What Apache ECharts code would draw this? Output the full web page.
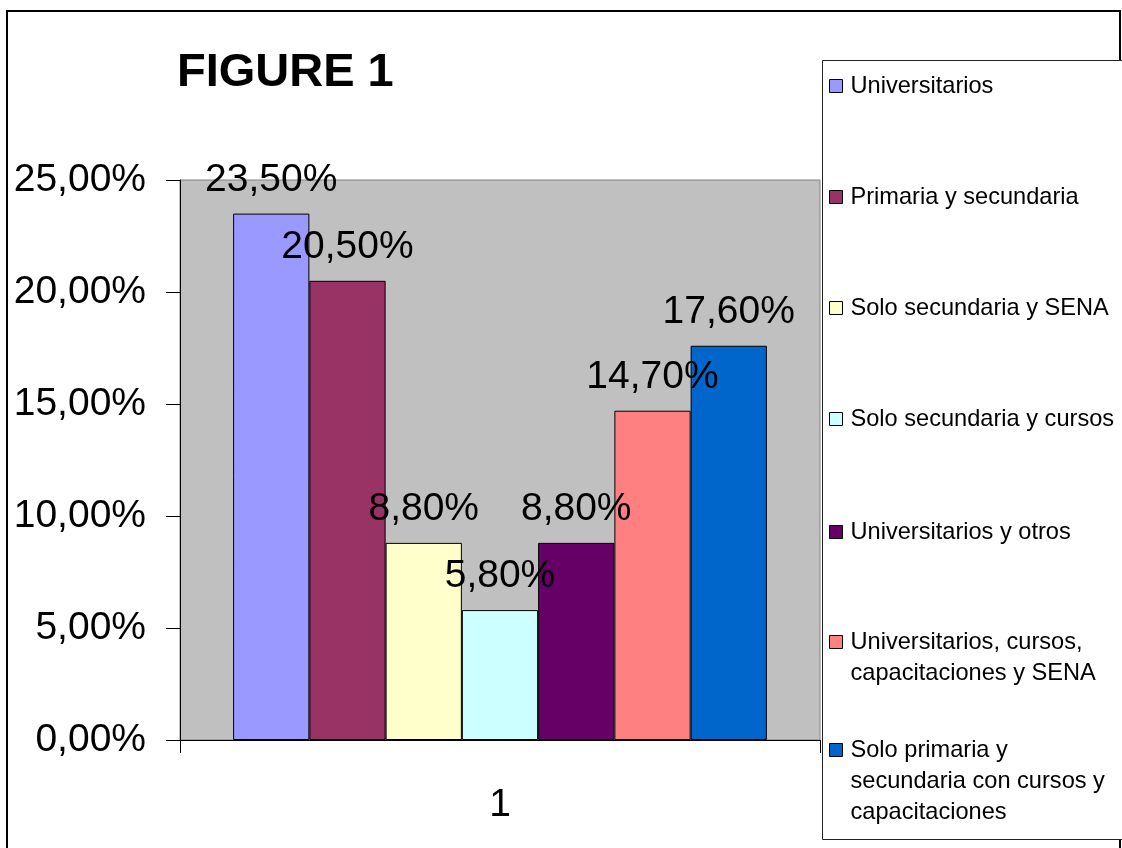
<!DOCTYPE html>
<html>
<head>
<meta charset="utf-8">
<script src="https://cdn.jsdelivr.net/npm/echarts@6/dist/echarts.min.js"></script>
<style>
html,body{margin:0;padding:0;background:#fff;}
#chart{width:1122px;height:848px;}
</style>
</head>
<body>
<div id="chart"></div>
<script>
const categories = ['1'];
const seriesNames = [
  'Universitarios',
  'Primaria y secundaria',
  'Solo secundaria y SENA',
  'Solo secundaria y cursos',
  'Universitarios y otros',
  'Universitarios, cursos, capacitaciones y SENA',
  'Solo primaria y secundaria con cursos y capacitaciones'
];
const legendLines = [
  ['Universitarios'],
  ['Primaria y secundaria'],
  ['Solo secundaria y SENA'],
  ['Solo secundaria y cursos'],
  ['Universitarios y otros'],
  ['Universitarios, cursos,', 'capacitaciones y SENA'],
  ['Solo primaria y', 'secundaria con cursos y', 'capacitaciones']
];
const values = [23.5, 20.5, 8.8, 5.8, 8.8, 14.7, 17.6];
const colors = ['#9999FF', '#993366', '#FFFFCC', '#CCFFFF', '#660066', '#FF8080', '#0066CC'];
const yTicks = [0, 5, 10, 15, 20, 25];

const FONT = '"Liberation Sans", Arial, sans-serif';
const fmt = v => v.toFixed(2).replace('.', ',') + '%';

const LH = 31;
const legendIconCenters = [86, 197, 308, 419, 532, 642, 750];

const legends = seriesNames.map((name, i) => {
  const n = legendLines[i].length;
  const H = (2 * n - 1) * LH;
  return {
    data: [name],
    orient: 'vertical',
    left: 829,
    top: legendIconCenters[i] - H / 2,
    padding: 0,
    itemWidth: 13,
    itemHeight: 13,
    selectedMode: false,
    icon: 'rect',
    itemStyle: { borderColor: '#000', borderWidth: 1 },
    formatter: () => ' \n'.repeat(n - 1) + legendLines[i].join('\n'),
    textStyle: { fontSize: 23.6, lineHeight: LH, color: '#000', fontFamily: FONT, padding: [0, 0, 0, 3] }
  };
});

const chart = echarts.init(document.getElementById('chart'), null, { renderer: 'canvas' });
chart.setOption({
  animation: false,
  backgroundColor: '#fff',
  title: {
    text: 'FIGURE 1',
    left: 177,
    top: 50,
    padding: 0,
    textStyle: { fontSize: 47, fontWeight: 'bold', color: '#000', fontFamily: FONT }
  },
  graphic: [
    { type: 'rect', z: -10, shape: { x: 7, y: 11, width: 1113, height: 860 }, style: { fill: 'none', stroke: '#000', lineWidth: 2 } },
    { type: 'rect', z: 1, shape: { x: 822.5, y: 60.5, width: 300, height: 779 }, style: { fill: '#fff', stroke: '#222', lineWidth: 1 } }
  ],
  legend: legends,
  grid: {
    left: 180, right: 302, top: 180, bottom: 108,
    show: true, backgroundColor: '#C0C0C0', borderColor: '#808080', borderWidth: 1
  },
  xAxis: {
    type: 'category',
    data: categories,
    boundaryGap: true,
    axisLine: { lineStyle: { color: '#000', width: 1 } },
    axisTick: { show: true, length: 13, lineStyle: { color: '#000' } },
    axisLabel: { fontSize: 39, color: '#000', fontFamily: FONT, margin: 46 },
    splitLine: { show: false }
  },
  yAxis: {
    type: 'value',
    min: yTicks[0],
    max: yTicks[yTicks.length - 1],
    interval: yTicks[1] - yTicks[0],
    axisLine: { show: true, lineStyle: { color: '#000', width: 1 } },
    axisTick: { show: true, length: 14, lineStyle: { color: '#000' } },
    axisLabel: { fontSize: 39, color: '#000', fontFamily: FONT, margin: 34, formatter: v => fmt(v) },
    splitLine: { show: false }
  },
  series: seriesNames.map((name, i) => ({
    name: name,
    type: 'bar',
    data: [values[i]],
    barGap: '0%',
    barCategoryGap: '16.6%',
    itemStyle: { color: colors[i], borderColor: '#000', borderWidth: 1 },
    label: {
      show: true,
      position: 'top',
      distance: 14,
      formatter: p => fmt(p.value),
      fontSize: 39,
      color: '#000',
      fontFamily: FONT
    },
    z: 2
  }))
});
</script>
</body>
</html>
